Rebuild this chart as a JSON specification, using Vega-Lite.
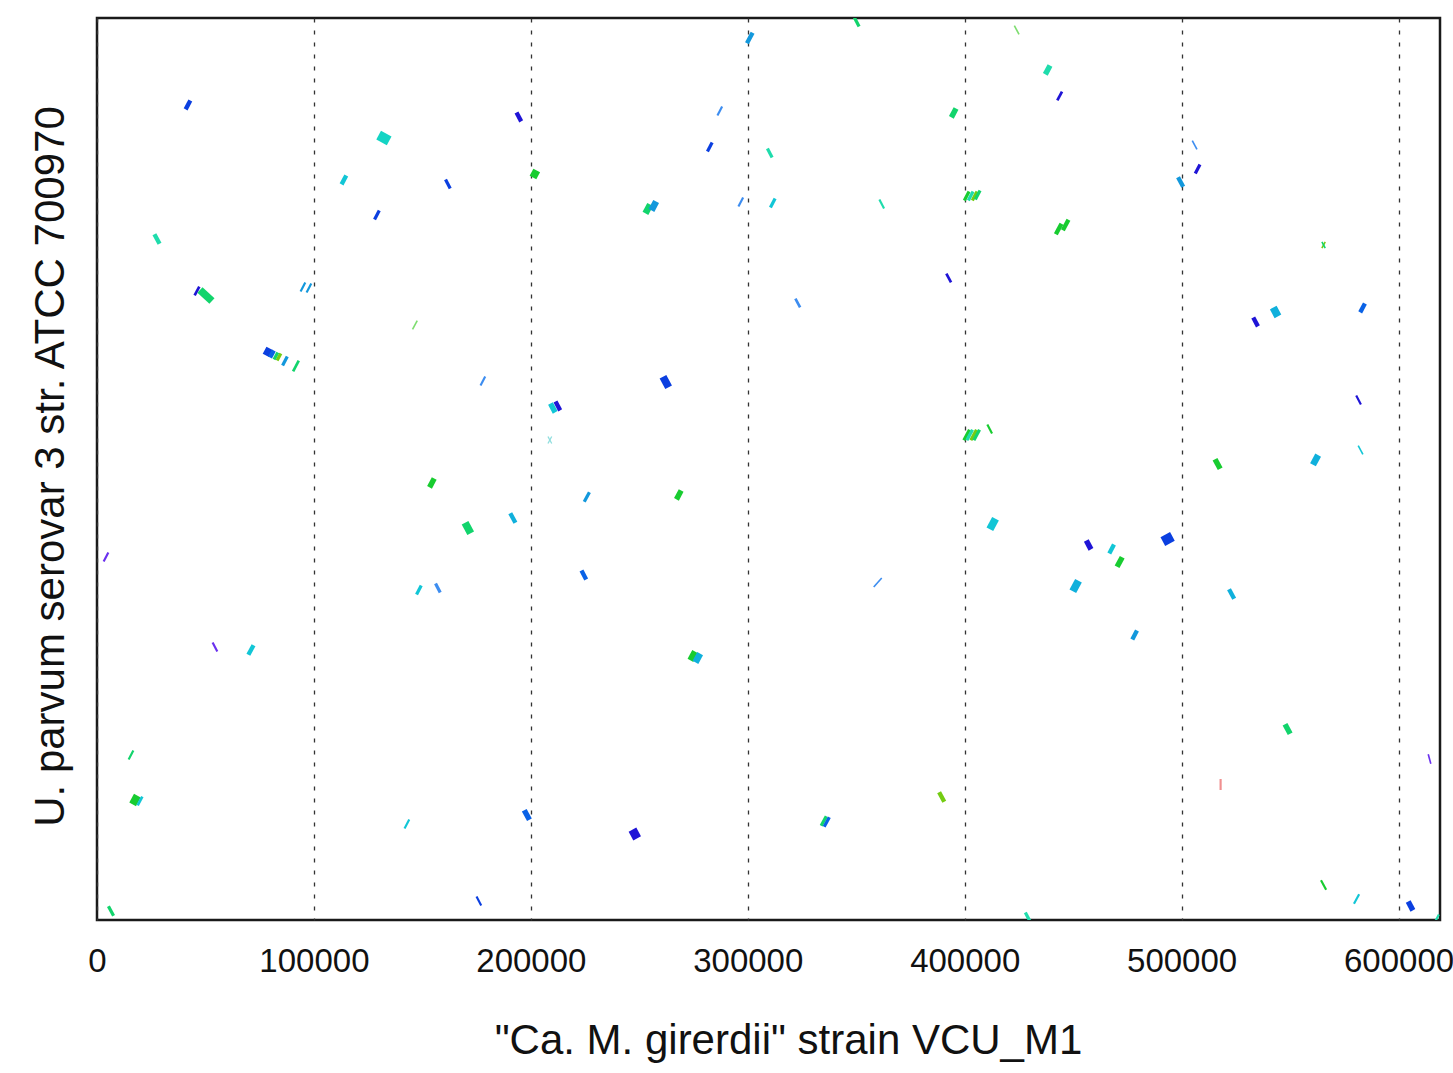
{
  "$schema": "https://vega.github.io/schema/vega-lite/v6.json",
  "width": 1343,
  "height": 902,
  "autosize": {"type": "none"},
  "padding": {"left": 97, "top": 18, "right": 13, "bottom": 153},
  "background": "white",
  "config": {
    "font": "Liberation Sans",
    "view": {"stroke": "#1a1a1a", "strokeWidth": 2.5}
  },
  "data": {"values": [
    {"x":40852,"x2":43018,"y":675554,"y2":682888,"g":"blue","d":4},
    {"x":131175,"x2":133341,"y":648052,"y2":655386,"g":"turq","d":11},
    {"x":112742,"x2":114908,"y":613049,"y2":620383,"g":"cyan","d":4},
    {"x":127949,"x2":130115,"y":583880,"y2":591214,"g":"blue","d":3},
    {"x":26459,"x2":28841,"y":571579,"y2":563511,"g":"teal","d":4},
    {"x":45000,"x2":47166,"y":520542,"y2":527876,"g":"indigo","d":2.5},
    {"x":47465,"x2":52995,"y":525042,"y2":515875,"g":"seagreen","d":7},
    {"x":93848,"x2":96014,"y":523875,"y2":531209,"g":"sky","d":2},
    {"x":96613,"x2":98779,"y":523042,"y2":530376,"g":"sky","d":2},
    {"x":299622,"x2":302222,"y":730659,"y2":739459,"g":"sky","d":4},
    {"x":193387,"x2":195553,"y":672887,"y2":665553,"g":"indigo","d":4},
    {"x":160668,"x2":162834,"y":617049,"y2":609715,"g":"blue","d":3},
    {"x":200978,"x2":202710,"y":618782,"y2":624650,"g":"green","d":7},
    {"x":286014,"x2":288180,"y":670554,"y2":677888,"g":"skylight","d":2},
    {"x":281406,"x2":283572,"y":640551,"y2":647885,"g":"blue","d":3},
    {"x":252834,"x2":255000,"y":588880,"y2":596214,"g":"seagreen","d":6},
    {"x":255599,"x2":257765,"y":591381,"y2":598715,"g":"sky","d":6},
    {"x":295692,"x2":297858,"y":594714,"y2":602048,"g":"skylight","d":2},
    {"x":309056,"x2":311222,"y":642885,"y2":635551,"g":"teal","d":3},
    {"x":310438,"x2":312604,"y":593881,"y2":601215,"g":"cyan","d":3},
    {"x":349148,"x2":351314,"y":752060,"y2":744726,"g":"seagreen","d":3},
    {"x":422881,"x2":425047,"y":745393,"y2":738059,"g":"lightgreen","d":1.5},
    {"x":437166,"x2":439332,"y":704723,"y2":712057,"g":"teal","d":5},
    {"x":442696,"x2":444862,"y":683055,"y2":690389,"g":"indigo","d":2.5},
    {"x":393848,"x2":396014,"y":668887,"y2":676221,"g":"seagreen","d":5},
    {"x":360669,"x2":362835,"y":600381,"y2":593047,"g":"teal","d":2},
    {"x":399839,"x2":402005,"y":599715,"y2":607049,"g":"green","d":3},
    {"x":401682,"x2":403848,"y":599715,"y2":607049,"g":"teal","d":3},
    {"x":403526,"x2":405692,"y":599715,"y2":607049,"g":"lime","d":3},
    {"x":404908,"x2":407074,"y":600548,"y2":607882,"g":"seagreen","d":3},
    {"x":442018,"x2":444618,"y":571479,"y2":580279,"g":"green","d":4},
    {"x":445244,"x2":447844,"y":574813,"y2":583613,"g":"green","d":4},
    {"x":391544,"x2":393710,"y":538710,"y2":531376,"g":"indigo","d":2.5},
    {"x":321959,"x2":324125,"y":517875,"y2":510541,"g":"skylight","d":2.5},
    {"x":504908,"x2":507074,"y":649552,"y2":642218,"g":"skylight","d":1.5},
    {"x":506291,"x2":508457,"y":622216,"y2":629550,"g":"indigo","d":3},
    {"x":498349,"x2":500731,"y":619083,"y2":611015,"g":"sky","d":4},
    {"x":564680,"x2":566196,"y":559978,"y2":565112,"g":"lime","d":1.5},
    {"x":564680,"x2":566196,"y":565112,"y2":559978,"g":"seagreen","d":1.5},
    {"x":542236,"x2":544402,"y":510374,"y2":503040,"g":"cyanblue","d":7},
    {"x":533019,"x2":535185,"y":502040,"y2":494706,"g":"indigo","d":4},
    {"x":582328,"x2":584494,"y":506374,"y2":513708,"g":"azure","d":4},
    {"x":145461,"x2":147627,"y":492206,"y2":499540,"g":"lightgreen","d":1.5},
    {"x":77936,"x2":79668,"y":470437,"y2":476305,"g":"blue","d":7},
    {"x":79779,"x2":81511,"y":468770,"y2":474638,"g":"azure","d":4},
    {"x":81623,"x2":83355,"y":467104,"y2":472972,"g":"seagreen","d":3},
    {"x":83005,"x2":84737,"y":466270,"y2":472138,"g":"lime","d":3},
    {"x":85553,"x2":87719,"y":462204,"y2":469538,"g":"sky","d":3},
    {"x":90405,"x2":93005,"y":457304,"y2":466104,"g":"seagreen","d":2.5},
    {"x":3064,"x2":5230,"y":298857,"y2":306191,"g":"violet","d":2},
    {"x":153295,"x2":155461,"y":360529,"y2":367863,"g":"green","d":5},
    {"x":147304,"x2":149470,"y":271355,"y2":278689,"g":"cyan","d":3},
    {"x":156060,"x2":158226,"y":280356,"y2":273022,"g":"skylight","d":3},
    {"x":176797,"x2":178963,"y":445536,"y2":452870,"g":"skylight","d":2},
    {"x":209055,"x2":211221,"y":430368,"y2":423034,"g":"cyan","d":5},
    {"x":211360,"x2":213526,"y":432035,"y2":424701,"g":"indigo","d":4},
    {"x":260912,"x2":263512,"y":452769,"y2":443969,"g":"blue","d":7},
    {"x":207890,"x2":209622,"y":397098,"y2":402966,"g":"palecyan","d":1.2},
    {"x":207890,"x2":209622,"y":402966,"y2":397098,"g":"palecyan","d":1.2},
    {"x":267120,"x2":269286,"y":350528,"y2":357862,"g":"green","d":5},
    {"x":224616,"x2":226998,"y":348494,"y2":356562,"g":"sky","d":3},
    {"x":169668,"x2":172268,"y":331093,"y2":322293,"g":"seagreen","d":7},
    {"x":190514,"x2":192896,"y":339061,"y2":330993,"g":"cyanblue","d":4},
    {"x":223341,"x2":225507,"y":291190,"y2":283856,"g":"azure","d":4},
    {"x":399622,"x2":402222,"y":399799,"y2":408599,"g":"green","d":3},
    {"x":401005,"x2":403605,"y":399799,"y2":408599,"g":"teal","d":3},
    {"x":402848,"x2":405448,"y":399799,"y2":408599,"g":"lime","d":3},
    {"x":404230,"x2":406830,"y":399799,"y2":408599,"g":"seagreen","d":3},
    {"x":410438,"x2":412604,"y":412866,"y2":405532,"g":"green","d":2},
    {"x":411604,"x2":414204,"y":325626,"y2":334426,"g":"cyan","d":7},
    {"x":358065,"x2":361752,"y":277522,"y2":285023,"g":"skylight","d":1.5},
    {"x":456060,"x2":458226,"y":316192,"y2":308858,"g":"indigo","d":5},
    {"x":449853,"x2":452453,"y":273956,"y2":282756,"g":"cyanblue","d":7},
    {"x":466659,"x2":468825,"y":305524,"y2":312858,"g":"cyan","d":4},
    {"x":470238,"x2":472620,"y":294323,"y2":302391,"g":"green","d":5},
    {"x":492466,"x2":494632,"y":321192,"y2":313858,"g":"blue","d":10},
    {"x":580484,"x2":582650,"y":437035,"y2":429701,"g":"indigo","d":2},
    {"x":581406,"x2":583572,"y":395365,"y2":388031,"g":"cyan","d":1.5},
    {"x":515399,"x2":517781,"y":384064,"y2":375996,"g":"green","d":5},
    {"x":560561,"x2":562943,"y":379330,"y2":387398,"g":"cyanblue","d":6},
    {"x":521851,"x2":524233,"y":275722,"y2":267654,"g":"cyanblue","d":4},
    {"x":53295,"x2":55461,"y":231185,"y2":223851,"g":"violet","d":2},
    {"x":69777,"x2":72159,"y":220984,"y2":229052,"g":"cyan","d":4},
    {"x":14585,"x2":16751,"y":133844,"y2":141178,"g":"seagreen","d":2},
    {"x":16429,"x2":18595,"y":96341,"y2":103675,"g":"green","d":7},
    {"x":18733,"x2":20899,"y":95508,"y2":102842,"g":"cyan","d":2.5},
    {"x":141774,"x2":143940,"y":76339,"y2":83673,"g":"cyan","d":2},
    {"x":5261,"x2":7643,"y":11535,"y2":3467,"g":"seagreen","d":3},
    {"x":273572,"x2":275738,"y":216351,"y2":223685,"g":"green","d":6},
    {"x":275876,"x2":278042,"y":214684,"y2":222018,"g":"cyanblue","d":6},
    {"x":196966,"x2":199348,"y":91541,"y2":83473,"g":"azure","d":5},
    {"x":246844,"x2":249010,"y":75339,"y2":68005,"g":"indigo","d":8},
    {"x":174954,"x2":177120,"y":19502,"y2":12168,"g":"blue","d":2},
    {"x":333832,"x2":336214,"y":78473,"y2":86541,"g":"seagreen","d":3},
    {"x":335215,"x2":337597,"y":77639,"y2":85707,"g":"azure","d":3},
    {"x":388210,"x2":390592,"y":106542,"y2":98474,"g":"lime","d":4},
    {"x":427950,"x2":430116,"y":6167,"y2":-1167,"g":"teal","d":3},
    {"x":477259,"x2":479425,"y":233852,"y2":241186,"g":"sky","d":4},
    {"x":547658,"x2":550040,"y":163213,"y2":155145,"g":"seagreen","d":5},
    {"x":517973,"x2":517973,"y":117509,"y2":108342,"g":"pink","d":2},
    {"x":613686,"x2":614886,"y":138177,"y2":130177,"g":"violet","d":1.5},
    {"x":564247,"x2":566629,"y":33203,"y2":25135,"g":"green","d":2},
    {"x":579455,"x2":581837,"y":13467,"y2":21535,"g":"cyan","d":2},
    {"x":604448,"x2":606614,"y":15335,"y2":8001,"g":"blue","d":5},
    {"x":616429,"x2":618595,"y":-2834,"y2":4500,"g":"teal","d":2}
  ]},
  "mark": {"type": "rule", "strokeCap": "butt", "clip": true},
  "encoding": {
    "x": {
      "field": "x", "type": "quantitative",
      "scale": {"domain": [0, 619112], "nice": false, "zero": false},
      "axis": {
        "values": [0, 100000, 200000, 300000, 400000, 500000, 600000],
        "format": "d",
        "labelFontSize": 33, "labelColor": "#111", "labelPadding": 25,
        "labelFlush": false, "labelOverlap": false,
        "ticks": false, "domain": false,
        "grid": true, "gridDash": [4, 8], "gridColor": "#333", "gridWidth": 1.3,
        "title": "\"Ca. M. girerdii\" strain VCU_M1",
        "titleFontSize": 42, "titleFontWeight": "normal", "titleColor": "#111",
        "titleX": 691, "titleY": 133, "titleBaseline": "alphabetic", "titleAlign": "center"
      }
    },
    "x2": {"field": "x2"},
    "y": {
      "field": "y", "type": "quantitative",
      "scale": {"domain": [0, 751719], "nice": false, "zero": false},
      "axis": {
        "labels": false, "ticks": false, "domain": false, "grid": false,
        "title": "U. parvum serovar 3 str. ATCC 700970",
        "titleFontSize": 42, "titleFontWeight": "normal", "titleColor": "#111",
        "titleAngle": -90, "titleX": -34, "titleY": 448,
        "titleBaseline": "alphabetic", "titleAlign": "center"
      }
    },
    "y2": {"field": "y2"},
    "color": {
      "field": "g", "type": "nominal", "legend": null,
      "scale": {
        "domain": ["indigo","blue","azure","sky","skylight","cyan","cyanblue","turq","teal","seagreen","green","lime","lightgreen","violet","pink","palecyan"],
        "range": ["#1f14d6","#0b3fe0","#0a62e6","#1398dc","#3d8df0","#12c6d6","#10b0dc","#14d4c4","#1fdcac","#12d46c","#18cc30","#74cc12","#7edd70","#6a30ee","#f09090","#90dede"]
      }
    },
    "strokeWidth": {
      "field": "d", "type": "quantitative", "legend": null,
      "scale": {"domain": [0, 12], "range": [0, 13]}
    }
  }
}
